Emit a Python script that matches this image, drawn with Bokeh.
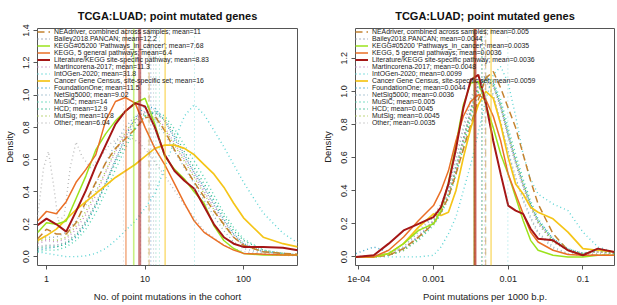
import numpy as np
from bokeh.plotting import figure
from bokeh.models import Range1d, FixedTicker, Span, Legend, LegendItem, PrintfTickFormatter
from bokeh.layouts import row
from bokeh.embed import file_html
from bokeh.resources import INLINE

# ---------------- data ----------------
set_names = ["NEAdriver, combined across samples", "Bailey2018.PANCAN", "KEGG#05200 'Pathways_in_cancer'",
             "KEGG, 5 general pathways", "Literature/KEGG site-specific pathway", "Martincorena-2017",
             "IntOGen-2020", "Cancer Gene Census, site-specific set", "FoundationOne", "NetSig5000",
             "MuSiC", "HCD", "MutSig", "Other"]
means_count = [11, 12.2, 7.68, 6.4, 8.83, 11.3, 31.8, 16, 11.5, 9.02, 14, 12.9, 10.8, 6.04]
means_rate = [0.005, 0.0044, 0.0035, 0.0036, 0.0036, 0.0048, 0.0099, 0.0059, 0.0044, 0.0036, 0.005, 0.0045, 0.0045, 0.0035]

# density curves vs log10(no. of point mutations in the cohort)
count_grid_log10 = [-0.09, 0.0, 0.1, 0.2, 0.3, 0.4, 0.5, 0.6, 0.7, 0.8, 0.9, 1.0, 1.1, 1.2, 1.3, 1.4, 1.5, 1.6, 1.7, 1.8, 1.9, 2.0, 2.2, 2.4, 2.55]
count_neadriver = [0.11, 0.17, 0.14, 0.14, 0.21, 0.34, 0.46, 0.58, 0.67, 0.73, 0.79, 0.86, 0.87, 0.78, 0.66, 0.56, 0.46, 0.37, 0.28, 0.20, 0.12, 0.07, 0.03, 0.02, 0.015]
count_bailey = [0.06, 0.07, 0.07, 0.09, 0.14, 0.22, 0.33, 0.46, 0.60, 0.73, 0.83, 0.89, 0.90, 0.84, 0.74, 0.63, 0.52, 0.42, 0.32, 0.22, 0.14, 0.08, 0.03, 0.015, 0.01]
count_kegg05200 = [0.15, 0.21, 0.20, 0.22, 0.36, 0.50, 0.66, 0.76, 0.84, 0.90, 0.95, 0.98, 0.82, 0.62, 0.54, 0.48, 0.40, 0.33, 0.19, 0.10, 0.05, 0.02, 0.01, 0.01, 0.01]
count_kegg5 = [0.22, 0.28, 0.265, 0.34, 0.46, 0.54, 0.63, 0.84, 0.96, 0.985, 0.95, 0.80, 0.67, 0.57, 0.45, 0.33, 0.22, 0.15, 0.11, 0.07, 0.04, 0.02, 0.015, 0.01, 0.01]
count_literature = [0.195, 0.235, 0.20, 0.155, 0.28, 0.41, 0.56, 0.69, 0.82, 0.90, 0.95, 0.93, 0.80, 0.63, 0.53, 0.47, 0.42, 0.31, 0.20, 0.12, 0.08, 0.06, 0.06, 0.055, 0.04]
count_martincorena = [0.08, 0.10, 0.09, 0.11, 0.17, 0.26, 0.38, 0.52, 0.65, 0.76, 0.85, 0.90, 0.88, 0.80, 0.70, 0.60, 0.50, 0.40, 0.30, 0.20, 0.12, 0.07, 0.03, 0.02, 0.01]
count_intogen = [0.03, 0.02, 0.01, 0.0, 0.0, 0.005, 0.02, 0.05, 0.10, 0.16, 0.22, 0.30, 0.39, 0.55, 0.72, 0.87, 0.94, 0.88, 0.78, 0.68, 0.57, 0.46, 0.27, 0.145, 0.085]
count_cgc = [0.10, 0.13, 0.17, 0.23, 0.29, 0.34, 0.39, 0.44, 0.49, 0.53, 0.57, 0.62, 0.67, 0.69, 0.69, 0.67, 0.63, 0.57, 0.51, 0.43, 0.33, 0.24, 0.12, 0.08, 0.06]
count_foundationone = [0.04, 0.05, 0.06, 0.08, 0.12, 0.20, 0.31, 0.45, 0.60, 0.74, 0.86, 0.93, 0.92, 0.84, 0.73, 0.62, 0.52, 0.43, 0.33, 0.23, 0.14, 0.08, 0.03, 0.02, 0.01]
count_netsig = [0.10, 0.12, 0.12, 0.15, 0.22, 0.32, 0.45, 0.58, 0.70, 0.80, 0.87, 0.89, 0.85, 0.76, 0.65, 0.55, 0.45, 0.35, 0.25, 0.16, 0.09, 0.05, 0.02, 0.01, 0.01]
count_music = [0.03, 0.04, 0.04, 0.06, 0.10, 0.17, 0.27, 0.40, 0.54, 0.67, 0.79, 0.87, 0.90, 0.87, 0.79, 0.69, 0.59, 0.49, 0.38, 0.27, 0.18, 0.11, 0.04, 0.02, 0.01]
count_hcd = [0.05, 0.06, 0.06, 0.08, 0.13, 0.21, 0.32, 0.45, 0.58, 0.70, 0.80, 0.87, 0.89, 0.85, 0.76, 0.65, 0.55, 0.45, 0.35, 0.25, 0.16, 0.10, 0.04, 0.02, 0.01]
count_mutsig = [0.09, 0.11, 0.10, 0.12, 0.19, 0.28, 0.40, 0.53, 0.66, 0.77, 0.85, 0.88, 0.86, 0.79, 0.69, 0.59, 0.49, 0.39, 0.29, 0.19, 0.12, 0.07, 0.03, 0.02, 0.01]
count_other_log10 = [-0.09, -0.03, 0.02, 0.07, 0.12, 0.18, 0.24, 0.3, 0.36, 0.45, 0.55, 0.65, 0.75, 0.85, 0.95, 1.05, 1.2, 1.4, 1.6, 1.8, 2.0, 2.3, 2.55]
count_other = [0.25, 0.55, 0.65, 0.45, 0.22, 0.25, 0.55, 0.71, 0.62, 0.55, 0.62, 0.70, 0.74, 0.74, 0.70, 0.63, 0.50, 0.32, 0.16, 0.07, 0.03, 0.01, 0.005]

# density curves vs log10(point mutations per 1000 b.p.)
rate_grid_log10 = [-4.04, -3.8, -3.6, -3.4, -3.2, -3.0, -2.9, -2.8, -2.7, -2.6, -2.5, -2.4, -2.3, -2.2, -2.1, -2.0, -1.9, -1.8, -1.7, -1.6, -1.4, -1.2, -1.0, -0.8, -0.58]
rate_neadriver = [0.0, 0.0, 0.01, 0.05, 0.12, 0.20, 0.27, 0.36, 0.50, 0.65, 0.80, 0.95, 1.08, 1.12, 1.02, 0.90, 0.78, 0.62, 0.46, 0.32, 0.14, 0.04, 0.01, 0.01, 0.01]
rate_bailey = [0.0, 0.0, 0.01, 0.04, 0.12, 0.22, 0.30, 0.40, 0.55, 0.72, 0.90, 1.04, 1.10, 1.04, 0.90, 0.72, 0.56, 0.42, 0.30, 0.20, 0.09, 0.04, 0.02, 0.03, 0.02]
rate_kegg05200 = [0.0, 0.0, 0.02, 0.08, 0.16, 0.20, 0.28, 0.45, 0.68, 0.92, 1.05, 1.06, 0.92, 0.78, 0.62, 0.50, 0.36, 0.22, 0.10, 0.04, 0.01, 0.0, 0.0, 0.01, 0.01]
rate_kegg5 = [0.0, 0.0, 0.04, 0.12, 0.22, 0.31, 0.40, 0.52, 0.70, 0.85, 0.94, 0.98, 0.95, 0.85, 0.70, 0.50, 0.38, 0.26, 0.15, 0.09, 0.04, 0.015, 0.01, 0.01, 0.01]
rate_literature = [0.0, 0.01, 0.08, 0.16, 0.20, 0.24, 0.30, 0.44, 0.65, 0.90, 1.07, 1.10, 0.93, 0.70, 0.50, 0.31, 0.28, 0.26, 0.17, 0.11, 0.10, 0.04, 0.01, 0.05, 0.03]
rate_martincorena = [0.0, 0.0, 0.01, 0.05, 0.13, 0.22, 0.29, 0.38, 0.52, 0.70, 0.88, 1.02, 1.08, 1.03, 0.90, 0.73, 0.57, 0.43, 0.31, 0.21, 0.10, 0.04, 0.02, 0.03, 0.02]
rate_intogen = [0.0, 0.0, 0.0, 0.0, 0.0, 0.01, 0.06, 0.14, 0.24, 0.40, 0.56, 0.75, 0.95, 1.10, 1.15, 1.05, 0.85, 0.62, 0.47, 0.38, 0.32, 0.28, 0.15, 0.06, 0.03]
rate_cgc = [0.0, 0.0, 0.02, 0.08, 0.18, 0.26, 0.25, 0.27, 0.40, 0.60, 0.78, 0.92, 1.00, 0.96, 0.80, 0.60, 0.44, 0.38, 0.30, 0.27, 0.23, 0.15, 0.05, 0.04, 0.03]
rate_foundationone = [0.02, 0.06, 0.03, 0.05, 0.12, 0.21, 0.28, 0.38, 0.53, 0.71, 0.89, 1.03, 1.09, 1.05, 0.92, 0.74, 0.58, 0.44, 0.32, 0.22, 0.11, 0.05, 0.02, 0.04, 0.03]
rate_netsig = [0.0, 0.01, 0.02, 0.06, 0.15, 0.24, 0.31, 0.42, 0.58, 0.77, 0.94, 1.06, 1.08, 0.98, 0.82, 0.64, 0.48, 0.35, 0.24, 0.15, 0.06, 0.02, 0.01, 0.02, 0.01]
rate_music = [0.0, 0.0, 0.01, 0.04, 0.10, 0.19, 0.26, 0.35, 0.49, 0.66, 0.84, 0.99, 1.08, 1.06, 0.95, 0.78, 0.62, 0.47, 0.34, 0.23, 0.11, 0.05, 0.02, 0.04, 0.03]
rate_hcd = [0.0, 0.0, 0.01, 0.04, 0.11, 0.20, 0.27, 0.37, 0.51, 0.68, 0.86, 1.00, 1.07, 1.04, 0.92, 0.75, 0.59, 0.45, 0.32, 0.22, 0.10, 0.04, 0.02, 0.04, 0.02]
rate_mutsig = [0.0, 0.0, 0.01, 0.04, 0.11, 0.21, 0.28, 0.38, 0.52, 0.70, 0.88, 1.01, 1.07, 1.03, 0.91, 0.74, 0.58, 0.44, 0.31, 0.21, 0.09, 0.04, 0.02, 0.03, 0.02]
rate_other = [0.0, 0.01, 0.02, 0.06, 0.16, 0.25, 0.32, 0.44, 0.60, 0.79, 0.96, 1.07, 1.07, 0.97, 0.81, 0.63, 0.47, 0.34, 0.23, 0.14, 0.05, 0.02, 0.01, 0.02, 0.01]

count_ticks = [1, 10, 100]
count_tick_labels = ["1", "10", "100"]
rate_ticks = [0.0001, 0.001, 0.01, 0.1]
rate_tick_labels = ["1e-04", "0.001", "0.01", "0.1"]
density_ticks = [0.0, 0.2, 0.4, 0.6, 0.8, 1.0, 1.2, 1.4]

# ---------------- styles ----------------
colors = ["#c4832f", "#8a97ab", "#9be31c", "#ea6f26", "#a51616", "#c690c6", "#5cd4d4",
          "#f5c518", "#3fa6c8", "#92b6c6", "#4fd3b0", "#2fb58a", "#a8c850", "#bdbdbd"]
dashes = ["7 4", "1 3", "solid", "solid", "solid", "1 3", "1 3", "solid", "1 3", "1 3", "1 3", "1 3", "1 3", "1 3"]
widths = [1.5, 1.4, 1.5, 1.5, 2.0, 1.4, 1.4, 1.7, 1.4, 1.4, 1.4, 1.4, 1.4, 1.4]
draw_order = [1, 5, 8, 9, 10, 11, 12, 13, 6, 0, 7, 2, 3, 4]

FONT = "Liberation Sans"


def make_panel(xs_list, ys_list, means, x_rng, y_rng, ticks, tick_labels, xlabel, width, bl, br):
    p = figure(width=width, height=304, x_axis_type="log",
               x_range=Range1d(*x_rng), y_range=Range1d(*y_rng),
               output_backend="svg", toolbar_location=None,
               min_border_left=bl, min_border_right=br, min_border_top=24, min_border_bottom=38,
               title="TCGA:LUAD; point mutated genes")
    p.title.text_font = FONT
    p.title.text_font_size = "11px"
    p.title.text_font_style = "bold"
    p.title.align = "center"
    p.title.text_color = "#111111"
    p.title.standoff = 14
    p.grid.visible = False
    p.outline_line_color = "#555555"
    p.outline_line_width = 1
    p.background_fill_color = "white"
    p.border_fill_color = "white"

    for ax in (p.xaxis[0], p.yaxis[0]):
        ax.axis_line_color = None
        ax.major_tick_line_color = "#555555"
        ax.major_tick_out = 4
        ax.major_tick_in = 0
        ax.minor_tick_line_color = None
        ax.major_label_text_font = FONT
        ax.major_label_text_font_size = "9px"
        ax.major_label_text_color = "#222222"
        ax.axis_label_text_font = FONT
        ax.axis_label_text_font_size = "9.5px"
        ax.axis_label_text_font_style = "normal"
        ax.axis_label_text_color = "#222222"

    p.xaxis.ticker = FixedTicker(ticks=ticks)
    p.xaxis.major_label_overrides = {t: l for t, l in zip(ticks, tick_labels)}
    p.xaxis.axis_label = xlabel
    p.xaxis.major_label_standoff = 6
    p.xaxis.axis_label_standoff = 6
    p.yaxis.ticker = FixedTicker(ticks=density_ticks)
    p.yaxis.formatter = PrintfTickFormatter(format="%.1f")
    p.yaxis.major_label_orientation = "vertical"
    p.yaxis.major_label_standoff = 4
    p.yaxis.axis_label = "Density"
    p.yaxis.axis_label_standoff = 6

    renderers = [None] * len(set_names)
    for i in draw_order:
        renderers[i] = p.line(xs_list[i], ys_list[i], line_color=colors[i], line_width=widths[i],
                              line_dash=dashes[i])

    for i in draw_order:
        solid = dashes[i] == "solid"
        p.add_layout(Span(location=means[i], dimension="height", line_color=colors[i],
                          line_alpha=0.55 if solid else 0.6,
                          line_width=(3.0 if i == 4 else 1.6) if solid else 1.0,
                          line_dash=dashes[i]))

    items = [LegendItem(label=f"{set_names[i]}; mean={means[i]}", renderers=[renderers[i]])
             for i in range(len(set_names))]
    legend = Legend(items=items, location="top_left", margin=0, padding=3, spacing=0,
                    label_text_font=FONT, label_text_font_size="6.9px", label_text_color="#222222",
                    label_height=7, glyph_height=7, glyph_width=13, label_standoff=4,
                    label_text_line_height=1.0,
                    background_fill_alpha=0.0, border_line_color=None)
    p.add_layout(legend)
    return p


count_keys = [count_neadriver, count_bailey, count_kegg05200, count_kegg5, count_literature, count_martincorena,
              count_intogen, count_cgc, count_foundationone, count_netsig, count_music, count_hcd, count_mutsig,
              count_other]
rate_keys = [rate_neadriver, rate_bailey, rate_kegg05200, rate_kegg5, rate_literature, rate_martincorena,
             rate_intogen, rate_cgc, rate_foundationone, rate_netsig, rate_music, rate_hcd, rate_mutsig,
             rate_other]

count_x = 10 ** np.array(count_grid_log10)
count_other_x = 10 ** np.array(count_other_log10)
count_xs = [count_x] * 13 + [count_other_x]
rate_x = 10 ** np.array(rate_grid_log10)
rate_xs = [rate_x] * 14

p1 = make_panel(count_xs, count_keys, means_count, (0.81, 353), (-0.055, 1.412),
                count_ticks, count_tick_labels, "No. of point mutations in the cohort", 306, 37, 9)
p2 = make_panel(rate_xs, rate_keys, means_rate, (10 ** -4.044, 10 ** -0.577), (-0.052, 1.38),
                rate_ticks, rate_tick_labels, "Point mutations per 1000 b.p.", 310, 49, 2)

layout = row(p1, p2)
open("out.html", "w").write(file_html(layout, INLINE))
